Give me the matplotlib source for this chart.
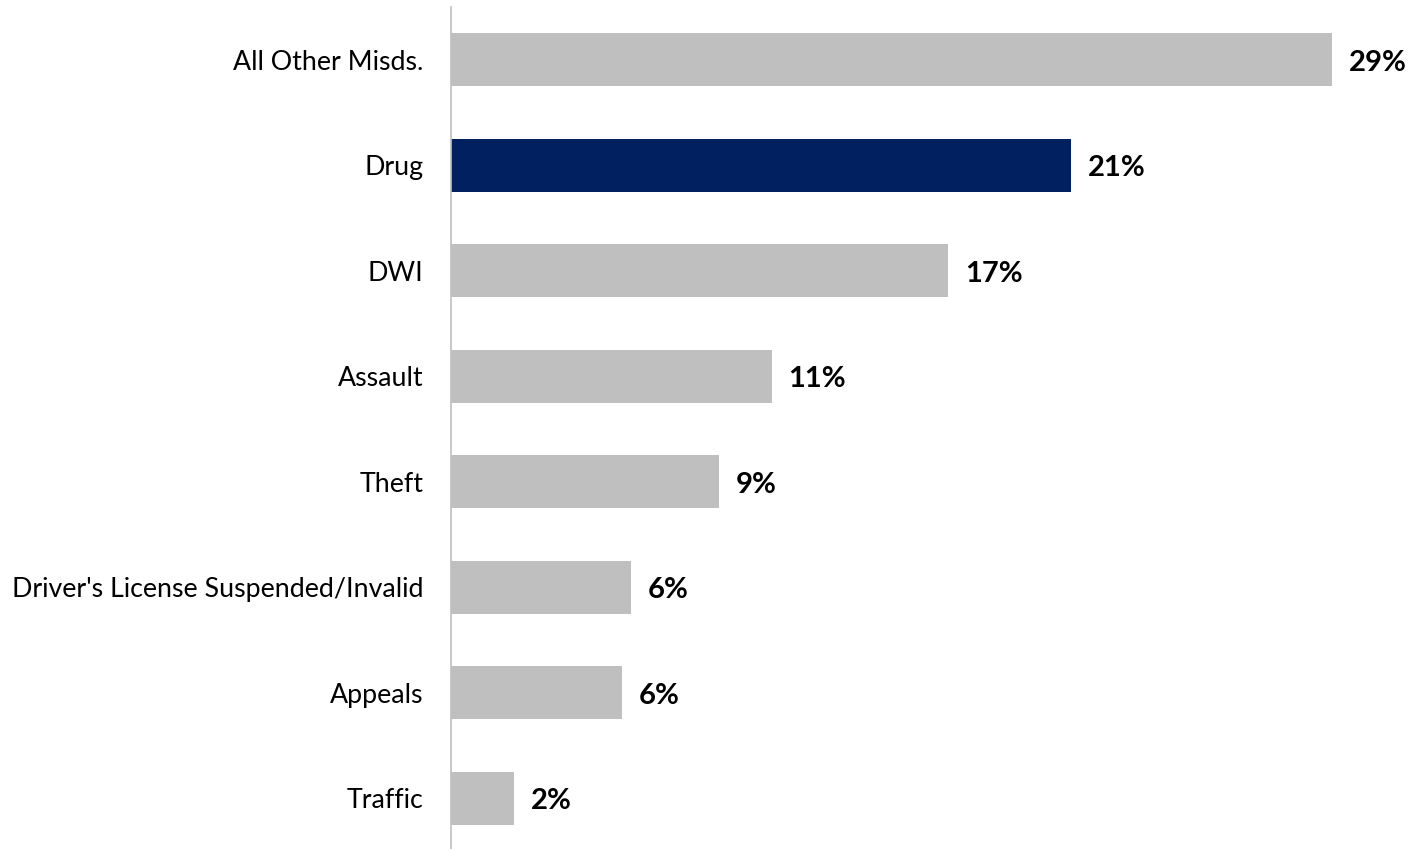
import matplotlib
matplotlib.use("Agg")
import matplotlib.pyplot as plt

# data (top to bottom)
categories = [
    "All Other Misds.",
    "Drug",
    "DWI",
    "Assault",
    "Theft",
    "Driver's License Suspended/Invalid",
    "Appeals",
    "Traffic",
]
values = [29.4, 20.7, 16.6, 10.7, 8.95, 6.0, 5.7, 2.1]
labels = ["29%", "21%", "17%", "11%", "9%", "6%", "6%", "2%"]
highlight = "Drug"

GRAY = "#BFBFBF"
NAVY = "#002060"

plt.rcParams["font.family"] = ["Lato", "DejaVu Sans"]

fig = plt.figure(figsize=(14.1, 8.49), dpi=100)
ax = fig.add_axes([451 / 1410, -2 / 849, 959 / 1410, 844 / 849])

ys = list(range(len(categories)))
colors = [NAVY if c == highlight else GRAY for c in categories]
bars = ax.barh(ys, values, height=0.5, color=colors)

ax.set_ylim(len(categories) - 0.5, -0.5)
ax.set_xlim(0, 32)
ax.set_yticks(ys, categories)
ax.tick_params(axis="y", length=0, pad=20, labelsize=19.3)
ax.set_xticks([])

for s in ["top", "right", "bottom"]:
    ax.spines[s].set_visible(False)
ax.spines["left"].set_color("#BFBFBF")
ax.spines["left"].set_linewidth(1.2)

for rect, lab in zip(bars, labels):
    ax.text(rect.get_width() + 0.55, rect.get_y() + rect.get_height() / 2 + 0.03, lab,
            ha="left", va="center", fontsize=21, fontweight="bold", color="black")

fig.savefig("out.png", dpi=100)
